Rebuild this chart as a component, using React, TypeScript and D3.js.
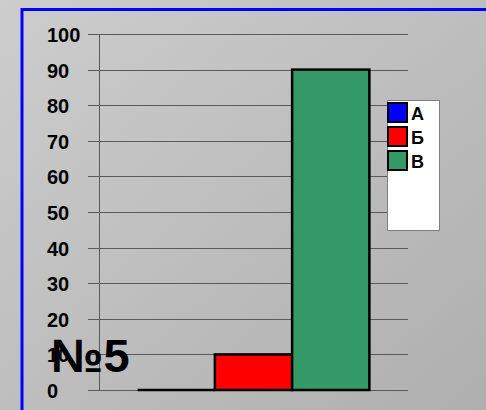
import * as d3 from "d3";

const series = ["А", "Б", "В"];
const values = [0, 10, 90];
const colors = ["#0000ff", "#ff0000", "#339966"];
const yTicks = [0, 10, 20, 30, 40, 50, 60, 70, 80, 90, 100];
const slideTitle = "№5";

const font = "'Liberation Sans', Arial, sans-serif";

export default function App() {
  const width = 486;
  const height = 410;

  const x = d3
    .scaleBand<string>()
    .domain(series)
    .range([99, 408])
    .paddingInner(0)
    .paddingOuter(0.5);

  const y = d3.scaleLinear().domain([0, 100]).range([390, 34]);

  return (
    <svg
      width={width}
      height={height}
      style={{ position: "absolute", left: 0, top: 0, display: "block" }}
    >
      <defs>
        <linearGradient id="bg" x1="0" y1="0" x2="1" y2="1">
          <stop offset="0%" stopColor="#cdcdcd" />
          <stop offset="100%" stopColor="#afafaf" />
        </linearGradient>
      </defs>
      <rect x={0} y={0} width={width} height={height} fill="url(#bg)" />
      {/* blue frame, right and bottom edges fall outside the picture */}
      <rect
        x={22}
        y={9.5}
        width={width + 20}
        height={height + 20}
        fill="none"
        stroke="#0000ff"
        strokeWidth={3}
      />

      {/* grid + ticks */}
      {yTicks.map((t) => (
        <line
          key={t}
          x1={88}
          x2={408}
          y1={Math.round(y(t)) + 0.5}
          y2={Math.round(y(t)) + 0.5}
          stroke="#5a5a5a"
          strokeWidth={1}
        />
      ))}
      <line x1={99.5} x2={99.5} y1={y(100)} y2={y(0)} stroke="#5a5a5a" />

      {yTicks.map((t) => (
        <text
          key={t}
          x={47}
          y={y(t) + 8}
          fontFamily={font}
          fontWeight="bold"
          fontSize={20}
          fill="#000"
        >
          {t}
        </text>
      ))}

      {/* bars */}
      {series.map((s, i) =>
        values[i] === 0 ? (
          <line
            key={s}
            x1={x(s)!}
            x2={x(s)! + x.bandwidth()}
            y1={y(0)}
            y2={y(0)}
            stroke="#000"
            strokeWidth={2.5}
          />
        ) : (
          <rect
            key={s}
            x={x(s)!}
            y={y(values[i])}
            width={x.bandwidth()}
            height={y(0) - y(values[i])}
            fill={colors[i]}
            stroke="#000"
            strokeWidth={2.5}
          />
        )
      )}

      {/* legend */}
      <rect x={387.5} y={100.5} width={52} height={130} fill="#fff" stroke="#808080" />
      {series.map((s, i) => (
        <g key={s} transform={`translate(388,${103 + i * 24})`}>
          <rect x={0} y={0} width={19} height={19} fill={colors[i]} stroke="#000" strokeWidth={2} />
          <text x={23} y={17} fontFamily={font} fontWeight="bold" fontSize={18} fill="#000">
            {s}
          </text>
        </g>
      ))}

      <text
        x={51}
        y={372}
        fontFamily={font}
        fontWeight="bold"
        fontSize={47}
        fill="#000"
      >
        {slideTitle}
      </text>
    </svg>
  );
}
